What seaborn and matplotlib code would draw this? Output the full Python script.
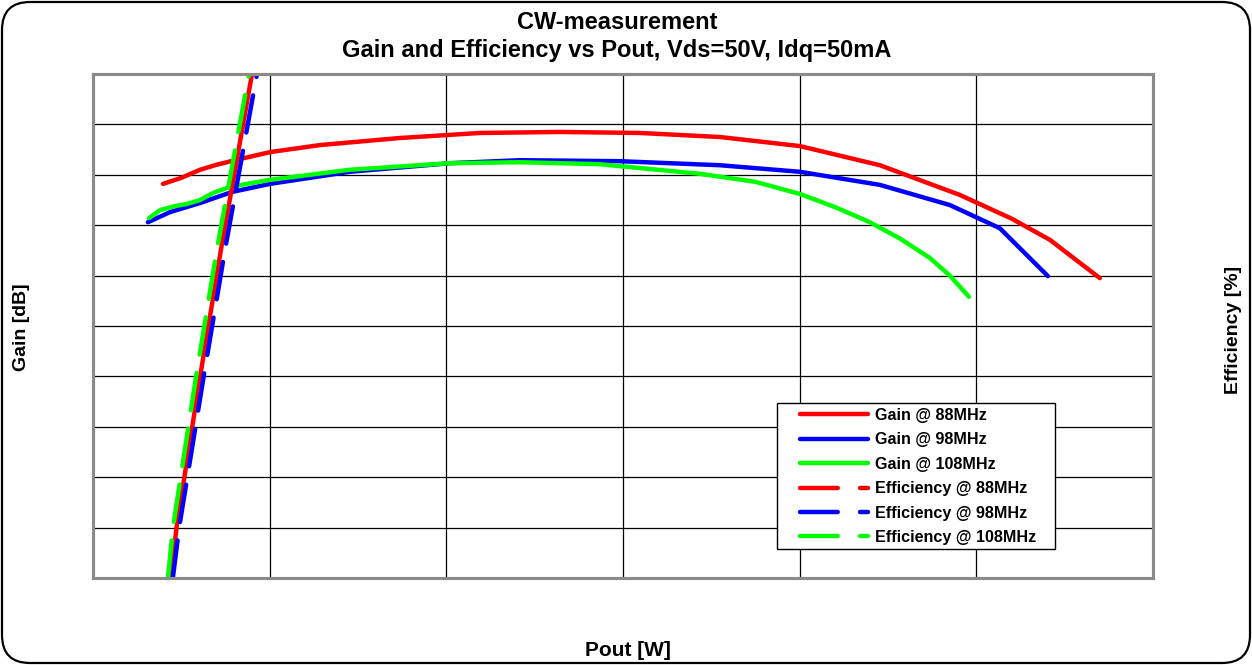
import numpy as np
import pandas as pd
import seaborn as sns
import matplotlib
matplotlib.use("Agg")
import matplotlib.pyplot as plt
from matplotlib.patches import FancyBboxPatch, Rectangle
from matplotlib.lines import Line2D

# ---------------- data ----------------
pout_gain_88 = [39.6, 50.0, 60.6, 70.0, 80.4, 100.2, 128.5, 173.7, 219.0, 264.3, 309.6, 354.8, 400.1, 445.4, 490.7, 520.0, 541.6, 569.9]
gain_88 = [21.82, 21.94, 22.10, 22.20, 22.29, 22.45, 22.59, 22.73, 22.83, 22.85, 22.83, 22.75, 22.57, 22.19, 21.60, 21.13, 20.71, 19.95]

pout_gain_98 = [31.1, 43.6, 60.6, 78.7, 100.2, 145.4, 202.0, 241.7, 298.2, 354.8, 400.1, 445.4, 485.0, 513.3, 540.5]
gain_98 = [21.06, 21.26, 21.44, 21.66, 21.82, 22.06, 22.23, 22.29, 22.27, 22.19, 22.06, 21.80, 21.40, 20.94, 19.99]

pout_gain_108 = [31.7, 38.0, 46.4, 53.0, 60.6, 68.0, 77.5, 100.2, 145.4, 202.0, 241.7, 286.9, 343.5, 375.0, 400.1, 420.0, 439.7, 457.0, 473.7, 485.0, 495.8]
gain_108 = [21.14, 21.30, 21.38, 21.42, 21.50, 21.64, 21.76, 21.90, 22.10, 22.23, 22.25, 22.21, 22.02, 21.86, 21.62, 21.36, 21.06, 20.73, 20.35, 20.00, 19.58]

pout_eff_88 = [44.1, 47.3, 60.6, 72.4, 90.0, 93.0]
eff_88 = [0.0, 10.1, 39.9, 65.1, 100.0, 106.5]
pout_eff_98 = [45.2, 48.8, 62.6, 74.7, 92.8, 95.8]
eff_98 = [0.0, 10.1, 39.9, 65.1, 100.0, 106.5]
pout_eff_108 = [42.4, 45.3, 58.3, 70.1, 88.3, 91.3]
eff_108 = [0.0, 10.1, 39.9, 65.1, 100.0, 106.5]

labels_gain = ["Gain @ 88MHz", "Gain @ 98MHz", "Gain @ 108MHz"]
labels_eff = ["Efficiency @ 88MHz", "Efficiency @ 98MHz", "Efficiency @ 108MHz"]
colors = ["#ff0000", "#0000ff", "#00ff00"]

x_ticks = [0, 100, 200, 300, 400, 500, 600]
gain_ticks = list(range(14, 25))
eff_ticks = list(range(0, 101, 10))

# ---------------- figure ----------------
sns.set_theme(style="white")
plt.rcParams['font.family'] = ['Liberation Sans', 'DejaVu Sans']
plt.rcParams['text.color'] = 'black'

fig = plt.figure(figsize=(12.52, 6.65), dpi=100)
ax = fig.add_axes([93/1252, 1 - 578/665, (1153 - 93)/1252, (578 - 74)/665])
ax2 = ax.twinx()

lw = 3.2
plot_dash = (0, (8.5, 4.2))
legend_dash = (0, (8.5, 5.0, 1.8, 5.0))

gain_sets = [(pout_gain_88, gain_88), (pout_gain_98, gain_98), (pout_gain_108, gain_108)]
eff_sets = [(pout_eff_88, eff_88), (pout_eff_98, eff_98), (pout_eff_108, eff_108)]

for (xs, ys), c in zip(gain_sets, colors):
    df = pd.DataFrame({"x": xs, "y": ys})
    sns.lineplot(data=df, x="x", y="y", ax=ax, color=c, lw=lw, sort=False,
                 solid_capstyle="round", legend=False)

for i, ((xs, ys), c) in enumerate(zip(eff_sets, colors)):
    df = pd.DataFrame({"x": xs, "y": ys})
    sns.lineplot(data=df, x="x", y="y", ax=ax2, color=c, lw=lw, sort=False,
                 solid_capstyle="round", legend=False)
    ln = ax2.lines[-1]
    if i > 0:
        ln.set_linestyle(plot_dash)
        ln.set_dash_capstyle("round")

ax.set_xlim(0, 600)
ax.set_ylim(14, 24)
ax2.set_ylim(0, 100)
ax.set_xticks(x_ticks)
ax.set_yticks(gain_ticks)
ax2.set_yticks(eff_ticks)
for a in (ax, ax2):
    a.tick_params(left=False, right=False, bottom=False, labelleft=False,
                  labelright=False, labelbottom=False)
    a.set_xlabel("")
    a.set_ylabel("")
ax.grid(True, color="#000000", lw=0.9)
ax2.grid(False)
for a in (ax, ax2):
    for s in a.spines.values():
        s.set_color("#8a8a8a")
        s.set_linewidth(2.2)

# labels
fig.text(628/1252, 1 - 650/665, "Pout [W]", ha="center", va="center",
         fontsize=15, fontweight="bold", color="black")
fig.text(22/1252, 1 - 327/665, "Gain [dB]", ha="center", va="center",
         rotation=90, fontsize=14, fontweight="bold", color="black")
fig.text(1234/1252, 1 - 330/665, "Efficiency [%]", ha="center", va="center",
         rotation=90, fontsize=14, fontweight="bold", color="black")
fig.text(617/1252, 1 - 36.5/665, "CW-measurement\nGain and Efficiency vs Pout, Vds=50V, Idq=50mA",
         ha="center", va="center", fontsize=17, fontweight="bold", linespacing=1.3,
         color="black")

# legend (frame drawn separately)
frame = Rectangle((777/1252, 1 - 549/665), (1055 - 777)/1252, (549 - 403)/665,
                  transform=fig.transFigure, facecolor="white", edgecolor="black",
                  lw=1.0, zorder=20)
ax2.add_artist(frame)
handles = []
for c, l in zip(colors, labels_gain):
    handles.append(Line2D([], [], color=c, lw=lw, solid_capstyle="round", label=l))
for c, l in zip(colors, labels_eff):
    handles.append(Line2D([], [], color=c, lw=lw, linestyle=legend_dash,
                          dash_capstyle="round", label=l))
leg = ax2.legend(handles=handles, loc="upper left",
                 bbox_to_anchor=(800/1252, 1 - 408/665), bbox_transform=fig.transFigure,
                 frameon=False, prop={"weight": "bold", "size": 11.6},
                 handlelength=4.2, handletextpad=0.45, labelspacing=0.585,
                 borderpad=0, borderaxespad=0)
leg.set_zorder(30)
for t in leg.get_texts():
    t.set_color("black")

# outer rounded border
border = FancyBboxPatch((0.02, 0.02), 12.48, 6.61,
                        boxstyle="round,pad=0,rounding_size=0.28",
                        transform=fig.dpi_scale_trans, fill=False,
                        edgecolor="#000000", lw=1.6)
fig.patches.append(border)

fig.savefig("out.png", dpi=100, facecolor="white")
